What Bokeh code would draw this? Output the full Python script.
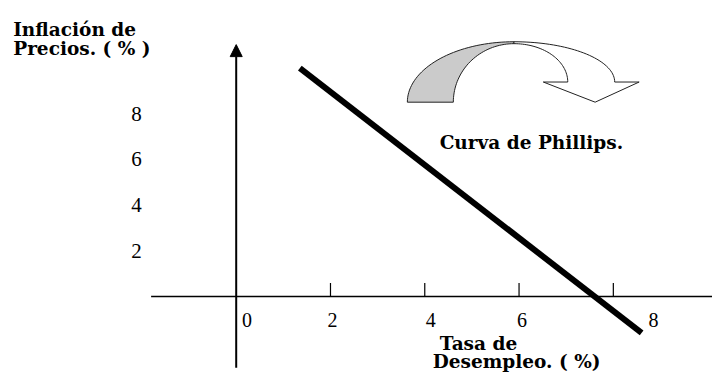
import numpy as np
from bokeh.plotting import figure
from bokeh.models import Range1d, Arrow, NormalHead
from bokeh.core.properties import value
from bokeh.embed import file_html
from bokeh.resources import INLINE

# ---------------- data ----------------
x_ticks = [0, 2, 4, 6, 8]
x_tick_labels = ["0", "2", "4", "6", "8"]
y_ticks = [2, 4, 6, 8]
y_tick_labels = ["2", "4", "6", "8"]
phillips_unemployment = [1.35, 8.6]
phillips_inflation = [10.0, -1.6]
y_title_lines = ["Inflación de", "Precios. ( % )"]
x_title_lines = ["Tasa de", "Desempleo. ( %)"]
curve_label = ["Curva de Phillips."]

# ---------------- layout helpers (reference pixel -> data) ----------------
W, H = 712, 376
REF_W, REF_H = 728, 392
X0_REF, Y0_REF = 241.0, 308.5   # reference pixel of the data origin
SX, SY = 48.2, 23.8             # reference pixels per data unit
KX = W / REF_W                  # reference px -> screen px


def dx(px):
    return (px - X0_REF) / SX


def dy(py):
    return (Y0_REF - py) / SY


p = figure(width=W, height=H,
           x_range=Range1d(dx(0), dx(REF_W)),
           y_range=Range1d(dy(REF_H), dy(0)),
           x_axis_type=None, y_axis_type=None,
           output_backend="svg", toolbar_location=None,
           min_border=0, outline_line_color=None,
           background_fill_color="white", border_fill_color="white")

SERIF = value("Liberation Serif")
BOLD_SERIF = value("DejaVu Serif")

# ---------------- axes ----------------
p.line([dx(154), dx(REF_W)], [0, 0], line_color="black", line_width=1.5)
p.add_layout(Arrow(end=NormalHead(size=12, fill_color="black", line_color="black"),
                   x_start=0, y_start=dy(383), x_end=0, y_end=dy(46),
                   line_color="black", line_width=2))

tick_len = 14 / SY
tick_vals = [t for t in x_ticks if t != 0]
p.segment(x0=tick_vals, y0=[0] * len(tick_vals), x1=tick_vals,
          y1=[tick_len] * len(tick_vals), line_color="black", line_width=1.2)

x_label_offsets = [o * KX for o in [11, 2, 6, 3, 41]]
p.text(x=x_ticks, y=[0] * len(x_ticks), text=x_tick_labels,
       x_offset=x_label_offsets, y_offset=24,
       text_font=SERIF, text_font_size="20px", text_color="black",
       text_align="center", text_baseline="middle")

p.text(x=[0] * len(y_ticks), y=y_ticks, text=y_tick_labels,
       x_offset=-102 * KX, y_offset=0,
       text_font=SERIF, text_font_size="21px", text_color="black",
       text_align="center", text_baseline="middle")

# ---------------- Phillips curve ----------------
p.line(phillips_unemployment, phillips_inflation, line_color="black",
       line_width=6, line_cap="butt")

# ---------------- curved arrow decoration ----------------
t_up = np.linspace(np.pi, np.pi / 2, 40)
t_dn = np.linspace(np.pi / 2, np.pi, 40)
gray_x = np.concatenate([525 + 109 * np.cos(t_up), 525 + 62 * np.cos(t_dn)])
gray_y = np.concatenate([106 - 63 * np.sin(t_up), 106 - 61 * np.sin(t_dn)])
p.patch(dx(gray_x), dy(gray_y), fill_color="#cbcbcb", line_color="#222222",
        line_width=1)

t_a = np.linspace(np.pi / 2, 0, 40)
t_b = np.linspace(0, np.pi / 2, 40)
white_x = np.concatenate([525 + 103 * np.cos(t_a),
                          [653, 608, 555, 580],
                          525 + 55 * np.cos(t_b)])
white_y = np.concatenate([85 - 42 * np.sin(t_a),
                          [85, 106, 85, 85],
                          85 - 40 * np.sin(t_b)])
p.patch(dx(white_x), dy(white_y), fill_color="white", line_color="#222222",
        line_width=1)

# ---------------- titles ----------------
bold_kw = dict(text_font=BOLD_SERIF, text_font_style="bold",
               text_font_size="18.5px", text_color="black",
               text_align="left", text_baseline="alphabetic")
p.text(x=[dx(13), dx(13)], y=[dy(30), dy(50)], text=y_title_lines, **bold_kw)
p.text(x=[dx(449)], y=[dy(148)], text=curve_label, **bold_kw)
p.text(x=[dx(449), dx(442)], y=[dy(358), dy(376)], text=x_title_lines, **bold_kw)

open("out.html", "w").write(file_html(p, INLINE))
